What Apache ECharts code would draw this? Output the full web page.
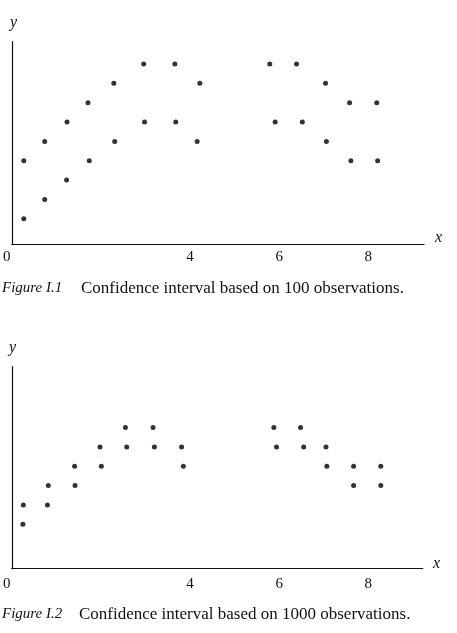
<!DOCTYPE html>
<html>

<head>
    <meta charset="UTF-8">
    <title>Confidence interval</title>
    <style>
        html, body { margin: 0; padding: 0; background: #fff; }
    </style>
</head>

<script src="https://cdn.jsdelivr.net/npm/echarts@6/dist/echarts.min.js"></script>

<body>
    <div id="figBox" style="width: 457px;height:633px;"></div>

    <script>
        // tick labels shown on the x axis (no 2 in the original)
        var xTicks = [0, 4, 6, 8];

        // Figure I.1 - 100 observations
        var upperX1 = [0.27, 0.74, 1.24, 1.71, 2.29, 2.96, 3.66, 4.22, 5.79, 6.39, 7.04, 7.58, 8.19];
        var upperY1 = [4, 5, 6, 7, 8, 9, 9, 8, 9, 9, 8, 7, 7];
        var lowerX1 = [0.27, 0.74, 1.23, 1.74, 2.31, 2.98, 3.68, 4.16, 5.91, 6.52, 7.06, 7.61, 8.21];
        var lowerY1 = [1, 2, 3, 4, 5, 6, 6, 5, 6, 6, 5, 4, 4];

        // Figure I.2 - 1000 observations
        var upperX2 = [0.26, 0.82, 1.41, 1.98, 2.55, 3.17, 3.81, 5.88, 6.48, 7.05, 7.67, 8.28];
        var upperY2 = [3, 4, 5, 6, 7, 7, 6, 7, 7, 6, 5, 5];
        var lowerX2 = [0.25, 0.80, 1.42, 2.01, 2.58, 3.20, 3.85, 5.94, 6.55, 7.07, 7.67, 8.28];
        var lowerY2 = [2, 3, 4, 5, 6, 6, 5, 6, 6, 5, 4, 4];

        var captions = ['Confidence interval based on 100 observations.',
            'Confidence interval based on 1000 observations.'];

        var serif = "'Liberation Serif', 'DejaVu Serif', serif";
        var ink = '#111';

        function pairs(xs, ys) {
            var out = [];
            for (var i = 0; i < xs.length; i++) {
                out.push([xs[i], ys[i]]);
            }
            return out;
        }

        function xAxisFor(idx, max) {
            return {
                type: 'value',
                gridIndex: idx,
                min: 0,
                max: max,
                splitLine: { show: false },
                axisTick: { show: false },
                axisLine: { show: true, onZero: false, lineStyle: { color: ink, width: 1.2 } },
                axisLabel: {
                    customValues: xTicks,
                    margin: idx === 0 ? 6 : 8,
                    color: ink,
                    fontFamily: serif,
                    fontSize: 15,
                    formatter: function (v) {
                        // the 0 sits just left of the y axis
                        return v === 0 ? '{z|0}' : String(v);
                    },
                    rich: {
                        z: { padding: [0, 10, 0, 0], fontFamily: serif, fontSize: 15, color: ink }
                    }
                }
            };
        }

        function yAxisFor(idx) {
            return {
                type: 'value',
                gridIndex: idx,
                min: -0.3,
                max: 10.15,
                splitLine: { show: false },
                axisTick: { show: false },
                axisLabel: { show: false },
                axisLine: { show: true, onZero: false, lineStyle: { color: ink, width: 1.2 } }
            };
        }

        function dots(idx, data) {
            return {
                type: 'scatter',
                xAxisIndex: idx,
                yAxisIndex: idx,
                symbol: 'circle',
                symbolSize: 5,
                itemStyle: { color: '#000' },
                silent: true,
                data: data
            };
        }

        function caption(top, num, text, textLeft) {
            return [{
                type: 'text',
                left: 2,
                top: top,
                style: { text: 'Figure I.' + num, font: 'italic 15px ' + serif, fill: ink }
            }, {
                type: 'text',
                left: textLeft,
                top: top - 1,
                style: { text: text, font: '17px ' + serif, fill: ink }
            }];
        }

        function axisName(left, top, t) {
            return {
                type: 'text',
                left: left,
                top: top,
                style: { text: t, font: 'italic 16px ' + serif, fill: ink }
            };
        }

        function drawFigure(idname) {
            var myChart = echarts.init(document.getElementById(idname));

            var option = {
                animation: false,
                grid: [
                    { left: 10, top: 41.7, width: 414, height: 202.3 },
                    { left: 9, top: 366.7, width: 413.7, height: 202 }
                ],
                xAxis: [xAxisFor(0, 9.25), xAxisFor(1, 9.22)],
                yAxis: [yAxisFor(0), yAxisFor(1)],
                series: [
                    dots(0, pairs(upperX1, upperY1)),
                    dots(0, pairs(lowerX1, lowerY1)),
                    dots(1, pairs(upperX2, upperY2)),
                    dots(1, pairs(lowerX2, lowerY2))
                ],
                graphic: [
                    axisName(10, 15, 'y'),
                    axisName(435, 230, 'x'),
                    axisName(9, 340, 'y'),
                    axisName(433, 556, 'x')
                ].concat(caption(281, 1, captions[0], 81))
                    .concat(caption(607, 2, captions[1], 79))
            };

            myChart.setOption(option);
        }

        drawFigure('figBox');
    </script>

</body>

</html>
